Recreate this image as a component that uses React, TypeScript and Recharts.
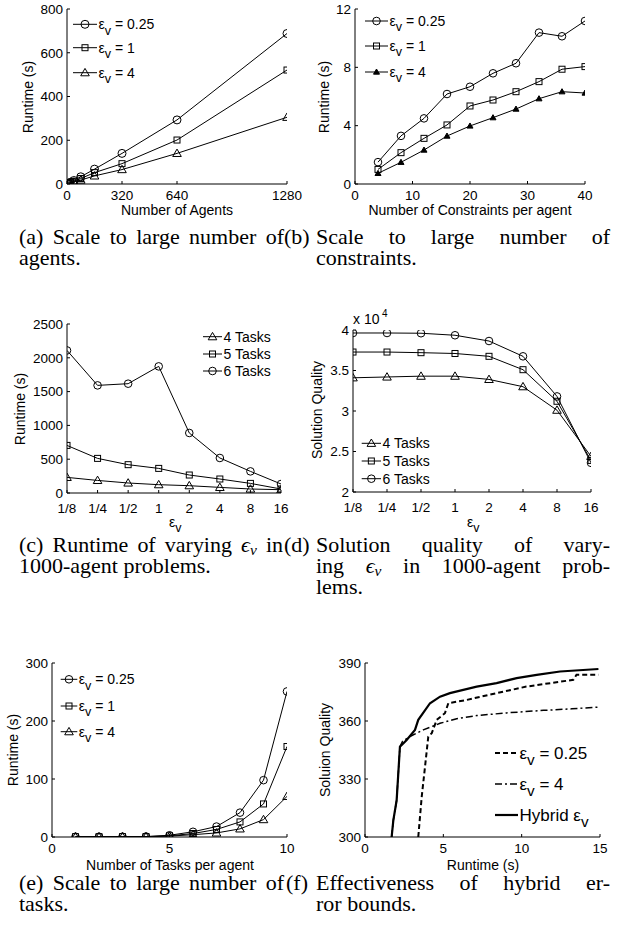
import React from 'react';
import { LineChart, Line, XAxis, YAxis } from 'recharts';

const FONT = "'Liberation Sans', Arial, Helvetica, sans-serif";
const SERIF_NAME = 'Liberation Serif';
const SERIF = "'Liberation Serif', 'Times New Roman', serif";

// (a) Scale to large number of agents
const agents = [10, 20, 40, 80, 160, 320, 640, 1280];
const agentsEps025 = [4, 8, 16, 33, 68, 140, 293, 688];
const agentsEps1 = [3, 6, 12, 25, 52, 93, 201, 521];
const agentsEps4 = [2, 4, 9, 18, 37, 66, 140, 305];
const agentsXTicks = [0, 320, 640, 1280];
const agentsYTicks = [0, 200, 400, 600, 800];

// (b) Scale to large number of constraints
const constraints = [4, 8, 12, 16, 20, 24, 28, 32, 36, 40];
const consEps025 = [1.5, 3.3, 4.5, 6.17, 6.67, 7.59, 8.28, 10.38, 10.13, 11.18];
const consEps1 = [1.0, 2.15, 3.13, 4.05, 5.35, 5.76, 6.33, 7.02, 7.87, 8.05];
const consEps4 = [0.73, 1.49, 2.33, 3.29, 3.98, 4.55, 5.14, 5.85, 6.33, 6.24];
const consXTicks = [0, 10, 20, 30, 40];
const consYTicks = [0, 4, 8, 12];

// (c) & (d) varying eps_v
const epsCats = ['1/8', '1/4', '1/2', '1', '2', '4', '8', '16'];
const rt4Tasks = [231, 186, 148, 123, 108, 83, 59, 49];
const rt5Tasks = [704, 512, 419, 364, 266, 207, 142, 59];
const rt6Tasks = [2109, 1592, 1617, 1873, 888, 518, 320, 133];
const rtYTicks = [0, 500, 1000, 1500, 2000, 2500];
const q4Tasks = [34100, 34200, 34300, 34300, 33900, 33000, 30100, 24400];
const q5Tasks = [37280, 37280, 37200, 37100, 36750, 35100, 31200, 23900];
const q6Tasks = [39630, 39630, 39600, 39350, 38640, 36750, 31800, 23600];
const qYTicks = [20000, 25000, 30000, 35000, 40000];

// (e) Scale to large number of tasks
const tasks = [1, 2, 3, 4, 5, 6, 7, 8, 9, 10];
const tasksEps025 = [0.5, 0.5, 0.6, 0.8, 3, 9, 18, 42, 98, 251];
const tasksEps1 = [0.4, 0.4, 0.5, 0.6, 2, 6, 13, 26, 57, 156];
const tasksEps4 = [0.3, 0.3, 0.4, 0.5, 1.5, 4, 7, 14, 30, 70];
const tasksXTicks = [0, 5, 10];
const tasksYTicks = [0, 100, 200, 300];

// (f) Effectiveness of hybrid error bounds
const hybridX = [1.7, 1.81, 2.02, 2.23, 2.66, 3.19, 3.4, 4.15, 4.79, 5.42, 7.13, 8.4, 9.68, 10.96, 12.45, 14.9];
const hybridY = [300, 308.7, 319, 346.7, 350.2, 355.4, 360.6, 369.2, 372.6, 374.4, 377.8, 379.6, 382.2, 383.9, 385.6, 386.9];
const eps025X = [3.4, 3.62, 3.83, 4.04, 4.26, 4.58, 5.1, 5.32, 6.49, 8.4, 10.3, 13.3, 13.5, 14.9];
const eps025Y = [300, 320.8, 336.3, 351.9, 353.7, 360.6, 364, 369.2, 370.9, 374.4, 377.8, 381.3, 383.9, 383.9];
const eps4X = [1.7, 1.81, 2.02, 2.23, 2.4, 2.87, 3.72, 4.79, 5.85, 7.13, 9.04, 11.4, 13.2, 14.9];
const eps4Y = [300, 308.7, 319, 346.7, 349.5, 352, 355.4, 358.8, 361.2, 362.8, 364.2, 365.5, 366.3, 367.2];
const hybXTicks = [0, 5, 10, 15];
const hybYTicks = [300, 330, 360, 390];

// ---------- tables built from arrays ----------
const tableA = agents.map((x, i) => ({ x, e025: agentsEps025[i], e1: agentsEps1[i], e4: agentsEps4[i] }));
const tableB = constraints.map((x, i) => ({ x, e025: consEps025[i], e1: consEps1[i], e4: consEps4[i] }));
const tableC = epsCats.map((c, i) => ({ x: i, t4: rt4Tasks[i], t5: rt5Tasks[i], t6: rt6Tasks[i] }));
const tableD = epsCats.map((c, i) => ({ x: i, t4: q4Tasks[i], t5: q5Tasks[i], t6: q6Tasks[i] }));
const tableE = tasks.map((x, i) => ({ x, e025: tasksEps025[i], e1: tasksEps1[i], e4: tasksEps4[i] }));
const tableHyb = hybridX.map((x, i) => ({ x, y: hybridY[i] }));
const table025 = eps025X.map((x, i) => ({ x, y: eps025Y[i] }));
const table4 = eps4X.map((x, i) => ({ x, y: eps4Y[i] }));

// ---------- markers ----------
const circ = (cx: number, cy: number, r: number, k?: any) => (
  <circle key={k} cx={cx} cy={cy} r={r} fill="none" stroke="#000" strokeWidth={1} />
);
const sq = (cx: number, cy: number, s: number, k?: any) => (
  <rect key={k} x={cx - s} y={cy - s} width={2 * s} height={2 * s} fill="none" stroke="#000" strokeWidth={1} />
);
const tri = (cx: number, cy: number, s: number, filled: boolean, k?: any) => (
  <polygon
    key={k}
    points={`${cx},${cy - s} ${cx + s},${cy + s * 0.72} ${cx - s},${cy + s * 0.72}`}
    fill={filled ? '#000' : 'none'}
    stroke="#000"
    strokeWidth={1}
  />
);
const dotCirc = (r: number) => (p: any) => (p.cx == null ? <g key={p.index} /> : circ(p.cx, p.cy, r, p.index));
const dotSq = (s: number) => (p: any) => (p.cx == null ? <g key={p.index} /> : sq(p.cx, p.cy, s, p.index));
const dotTri = (s: number, f = false) => (p: any) => (p.cx == null ? <g key={p.index} /> : tri(p.cx, p.cy, s, f, p.index));

// ---------- layout helpers ----------
const ML = 60, MT = 15, MR = 20, MB = 40;
type Rect = { x0: number; y0: number; x1: number; y1: number };
const box = (r: Rect) => {
  const W = r.x1 - r.x0 + ML + MR;
  const H = r.y1 - r.y0 + MT + MB;
  return { W, H, style: { position: 'absolute' as const, left: r.x0 - ML, top: r.y0 - MT, width: W, height: H } };
};
const tickStyle = { fill: '#000', fontSize: 13.5, fontFamily: FONT };
const xAx = {
  type: 'number' as const,
  dataKey: 'x',
  height: MB,
  tickSize: -3,
  tickMargin: 9,
  interval: 0 as const,
  tick: tickStyle,
  axisLine: { stroke: '#000', strokeWidth: 1 },
  tickLine: { stroke: '#000', strokeWidth: 1 },
  allowDataOverflow: true,
};
const yAx = {
  type: 'number' as const,
  width: ML,
  tickSize: -3,
  tickMargin: 7,
  interval: 0 as const,
  tick: tickStyle,
  axisLine: { stroke: '#000', strokeWidth: 1 },
  tickLine: { stroke: '#000', strokeWidth: 1 },
  allowDataOverflow: true,
};
const lineBase = { stroke: '#000', strokeWidth: 1, isAnimationActive: false, activeDot: false as const, type: 'linear' as const };

const rA: Rect = { x0: 67, y0: 9, x1: 287, y1: 184 };
const rB: Rect = { x0: 355, y0: 9, x1: 585, y1: 184 };
const rC: Rect = { x0: 67, y0: 324, x1: 281, y1: 493 };
const rD: Rect = { x0: 353, y0: 330, x1: 591, y1: 492 };
const rE: Rect = { x0: 52, y0: 663, x1: 287, y1: 837 };
const rF: Rect = { x0: 365, y0: 663, x1: 600, y1: 837 };

const PanelA = () => {
  const b = box(rA);
  return (
    <div style={b.style}>
      <LineChart width={b.W} height={b.H} data={tableA} margin={{ top: MT, right: MR, left: 0, bottom: 0 }}>
        <XAxis {...xAx} domain={[0, 1280]} ticks={agentsXTicks} />
        <YAxis {...yAx} domain={[0, 800]} ticks={agentsYTicks} />
        <Line {...lineBase} dataKey="e025" dot={dotCirc(4)} />
        <Line {...lineBase} dataKey="e1" dot={dotSq(3)} />
        <Line {...lineBase} dataKey="e4" dot={dotTri(4.3)} />
      </LineChart>
    </div>
  );
};

const PanelB = () => {
  const b = box(rB);
  return (
    <div style={b.style}>
      <LineChart width={b.W} height={b.H} data={tableB} margin={{ top: MT, right: MR, left: 0, bottom: 0 }}>
        <XAxis {...xAx} domain={[0, 40]} ticks={consXTicks} />
        <YAxis {...yAx} domain={[0, 12]} ticks={consYTicks} />
        <Line {...lineBase} dataKey="e025" dot={dotCirc(3.8)} />
        <Line {...lineBase} dataKey="e1" dot={dotSq(3)} />
        <Line {...lineBase} dataKey="e4" dot={dotTri(3, true)} />
      </LineChart>
    </div>
  );
};

const PanelC = () => {
  const b = box(rC);
  return (
    <div style={b.style}>
      <LineChart width={b.W} height={b.H} data={tableC} margin={{ top: MT, right: MR, left: 0, bottom: 0 }}>
        <XAxis {...xAx} tickMargin={13.5} domain={[0, 7]} ticks={[0, 1, 2, 3, 4, 5, 6, 7]} tickFormatter={(v: number) => epsCats[v]} />
        <YAxis {...yAx} domain={[0, 2500]} ticks={rtYTicks} />
        <Line {...lineBase} dataKey="t4" dot={dotTri(4.3)} />
        <Line {...lineBase} dataKey="t5" dot={dotSq(3)} />
        <Line {...lineBase} dataKey="t6" dot={dotCirc(3.8)} />
      </LineChart>
    </div>
  );
};

const PanelD = () => {
  const b = box(rD);
  return (
    <div style={b.style}>
      <LineChart width={b.W} height={b.H} data={tableD} margin={{ top: MT, right: MR, left: 0, bottom: 0 }}>
        <XAxis {...xAx} tickMargin={13.5} domain={[0, 7]} ticks={[0, 1, 2, 3, 4, 5, 6, 7]} tickFormatter={(v: number) => epsCats[v]} />
        <YAxis {...yAx} domain={[20000, 40000]} ticks={qYTicks} tickFormatter={(v: number) => String(v / 10000)} />
        <Line {...lineBase} dataKey="t4" dot={dotTri(4.3)} />
        <Line {...lineBase} dataKey="t5" dot={dotSq(3)} />
        <Line {...lineBase} dataKey="t6" dot={dotCirc(3.8)} />
      </LineChart>
    </div>
  );
};

const PanelE = () => {
  const b = box(rE);
  return (
    <div style={b.style}>
      <LineChart width={b.W} height={b.H} data={tableE} margin={{ top: MT, right: MR, left: 0, bottom: 0 }}>
        <XAxis {...xAx} domain={[0, 10]} ticks={tasksXTicks} />
        <YAxis {...yAx} domain={[0, 300]} ticks={tasksYTicks} />
        <Line {...lineBase} dataKey="e025" dot={dotCirc(3.8)} />
        <Line {...lineBase} dataKey="e1" dot={dotSq(3)} />
        <Line {...lineBase} dataKey="e4" dot={dotTri(4.3)} />
      </LineChart>
    </div>
  );
};

const PanelF = () => {
  const b = box(rF);
  return (
    <div style={b.style}>
      <LineChart width={b.W} height={b.H} margin={{ top: MT, right: MR, left: 0, bottom: 0 }}>
        <XAxis {...xAx} domain={[0, 15]} ticks={hybXTicks} />
        <YAxis {...yAx} domain={[300, 390]} ticks={hybYTicks} />
        <Line {...lineBase} data={table4} dataKey="y" strokeWidth={1.5} strokeDasharray="7 3 2 3" dot={false} />
        <Line {...lineBase} data={table025} dataKey="y" strokeWidth={2} strokeDasharray="5 3" dot={false} />
        <Line {...lineBase} data={tableHyb} dataKey="y" strokeWidth={2.2} dot={false} />
      </LineChart>
    </div>
  );
};

// ---------- overlay text ----------
const LegendRow = ({ x0, x1, y, marker, fs = 14, dash, sw = 1, children }: any) => (
  <g>
    <line x1={x0} x2={x1} y1={y} y2={y} stroke="#000" strokeWidth={sw} strokeDasharray={dash} />
    {marker ? marker((x0 + x1) / 2, y) : null}
    <text x={x1 + 1.5} y={y + fs * 0.35} fontSize={fs} style={{ fontFamily: FONT }} fill="#000">
      {children}
    </text>
  </g>
);

const EpsLabel = ({ v, fs = 14 }: { v: string; fs?: number }) => (
  <>
    <tspan>ε</tspan>
    <tspan dy={fs * 0.38} fontSize={fs * 0.9}>v</tspan>
    <tspan dy={-fs * 0.38}>{` = ${v}`}</tspan>
  </>
);

const VLabel = ({ x, y, children }: any) => (
  <text transform={`translate(${x},${y}) rotate(-90)`} textAnchor="middle" fontSize={14} style={{ fontFamily: FONT }} fill="#000">
    {children}
  </text>
);
const HLabel = ({ x, y, children }: any) => (
  <text x={x} y={y} textAnchor="middle" fontSize={14} style={{ fontFamily: FONT }} fill="#000">
    {children}
  </text>
);

// caption words, justified by measuring with a canvas
const CAP_FS = 20;
const SX = 1.1;
let mctx: CanvasRenderingContext2D | null = null;
const measure = (s: string, italic: boolean, size: number) => {
  if (!mctx) mctx = document.createElement('canvas').getContext('2d');
  if (!mctx) return s.length * size * 0.45;
  mctx.font = `${italic ? 'italic ' : ''}${size}px "${SERIF_NAME}", serif`;
  return mctx.measureText(s).width;
};
const EPS = '\u0000eps';
const wordWidth = (w: string) =>
  w === EPS ? measure('ϵ', true, CAP_FS) + measure('v', true, 14) : measure(w, false, CAP_FS);

const Word = ({ w, x }: { w: string; x: number }) =>
  w === EPS ? (
    <text x={x} y={0} fontSize={CAP_FS} style={{ fontFamily: SERIF }} fill="#000">
      <tspan fontStyle="italic">ϵ</tspan>
      <tspan fontStyle="italic" fontSize={14} dy={3}>v</tspan>
    </text>
  ) : (
    <text x={x} y={0} fontSize={CAP_FS} style={{ fontFamily: SERIF }} fill="#000">
      {w}
    </text>
  );

const Cap = ({ x, y, len, words, label, labelX }: { x: number; y: number; len?: number; words: string[]; label?: string; labelX?: number }) => {
  const widths = words.map(wordWidth);
  const total = widths.reduce((a, b) => a + b, 0);
  const natGap = measure(' ', false, CAP_FS);
  const gap = len && words.length > 1 ? Math.max(natGap, (len / SX - total) / (words.length - 1)) : natGap;
  let pos = 0;
  const items = words.map((w, i) => {
    const px = pos;
    pos += widths[i] + gap;
    return <Word key={i} w={w} x={px} />;
  });
  return (
    <>
      {label ? (
        <g transform={`translate(${labelX},${y}) scale(${SX},1)`}>
          <Word w={label} x={0} />
        </g>
      ) : null}
      <g transform={`translate(${x},${y}) scale(${SX},1)`}>{items}</g>
    </>
  );
};
const W = (s: string) => s.split(' ');

const Overlay = () => (
  <svg width={629} height={930} style={{ position: 'absolute', left: 0, top: 0, pointerEvents: 'none' }}>
    {/* axis labels */}
    <HLabel x={177} y={215}>Number of Agents</HLabel>
    <VLabel x={33} y={97}>Runtime (s)</VLabel>
    <HLabel x={470} y={215}>Number of Constraints per agent</HLabel>
    <VLabel x={329} y={97}>Runtime (s)</VLabel>
    <text x={169} y={527} fontSize={14} style={{ fontFamily: FONT }}>
      ε<tspan dy={5} fontSize={12.5}>v</tspan>
    </text>
    <VLabel x={25} y={409}>Runtime (s)</VLabel>
    <text x={467} y={527} fontSize={14} style={{ fontFamily: FONT }}>
      ε<tspan dy={5} fontSize={12.5}>v</tspan>
    </text>
    <VLabel x={322} y={410}>Solution Quality</VLabel>
    <text x={353} y={324} fontSize={14} style={{ fontFamily: FONT }}>x 10</text>
    <text x={382} y={317} fontSize={10} style={{ fontFamily: FONT }}>4</text>
    <HLabel x={170} y={870}>Number of Tasks per agent</HLabel>
    <VLabel x={18} y={750}>Runtime (s)</VLabel>
    <HLabel x={483} y={870}>Runtime (s)</HLabel>
    <VLabel x={330} y={750}>Soluion Quality</VLabel>

    {/* legend (a) */}
    <LegendRow x0={73} x1={97} y={24.3} marker={(cx: number, cy: number) => circ(cx, cy, 4)}><EpsLabel v="0.25" /></LegendRow>
    <LegendRow x0={73} x1={97} y={47.7} marker={(cx: number, cy: number) => sq(cx, cy, 3)}><EpsLabel v="1" /></LegendRow>
    <LegendRow x0={73} x1={97} y={72.7} marker={(cx: number, cy: number) => tri(cx, cy, 4.3, false)}><EpsLabel v="4" /></LegendRow>
    {/* legend (b) */}
    <LegendRow x0={365} x1={388} y={21} marker={(cx: number, cy: number) => circ(cx, cy, 3.8)}><EpsLabel v="0.25" /></LegendRow>
    <LegendRow x0={365} x1={388} y={46} marker={(cx: number, cy: number) => sq(cx, cy, 3)}><EpsLabel v="1" /></LegendRow>
    <LegendRow x0={365} x1={388} y={72} marker={(cx: number, cy: number) => tri(cx, cy, 3, true)}><EpsLabel v="4" /></LegendRow>
    {/* legend (c) */}
    <LegendRow x0={203} x1={222} y={336.7} marker={(cx: number, cy: number) => tri(cx, cy, 4.3, false)}>4 Tasks</LegendRow>
    <LegendRow x0={203} x1={222} y={354} marker={(cx: number, cy: number) => sq(cx, cy, 3)}>5 Tasks</LegendRow>
    <LegendRow x0={203} x1={222} y={371} marker={(cx: number, cy: number) => circ(cx, cy, 3.8)}>6 Tasks</LegendRow>
    {/* legend (d) */}
    <LegendRow x0={361.7} x1={381} y={443.3} marker={(cx: number, cy: number) => tri(cx, cy, 4.3, false)}>4 Tasks</LegendRow>
    <LegendRow x0={361.7} x1={381} y={461} marker={(cx: number, cy: number) => sq(cx, cy, 3)}>5 Tasks</LegendRow>
    <LegendRow x0={361.7} x1={381} y={478.7} marker={(cx: number, cy: number) => circ(cx, cy, 3.8)}>6 Tasks</LegendRow>
    {/* legend (e) */}
    <LegendRow x0={60.7} x1={77.3} y={679.3} marker={(cx: number, cy: number) => circ(cx, cy, 3.8)}><EpsLabel v="0.25" /></LegendRow>
    <LegendRow x0={60.7} x1={77.3} y={706} marker={(cx: number, cy: number) => sq(cx, cy, 3)}><EpsLabel v="1" /></LegendRow>
    <LegendRow x0={60.7} x1={77.3} y={731.7} marker={(cx: number, cy: number) => tri(cx, cy, 4.3, false)}><EpsLabel v="4" /></LegendRow>
    {/* legend (f) */}
    <LegendRow x0={495} x1={518} y={753} fs={17} sw={2} dash="5 3"><EpsLabel v="0.25" fs={17} /></LegendRow>
    <LegendRow x0={495} x1={518} y={784} fs={17} sw={1.5} dash="7 3 2 3"><EpsLabel v="4" fs={17} /></LegendRow>
    <LegendRow x0={495} x1={518} y={815} fs={17} sw={2.2}>
      <tspan>Hybrid ε</tspan>
      <tspan dy={6.5} fontSize={15.3}>v</tspan>
    </LegendRow>

    {/* captions */}
    <Cap x={19} y={244} len={265} words={W('(a) Scale to large number of')} />
    <Cap label="(b)" labelX={284} x={316} y={244} len={294} words={W('Scale to large number of')} />
    <Cap x={19} y={265} words={W('agents.')} />
    <Cap x={316} y={265} words={W('constraints.')} />

    <Cap x={19} y={552} len={264} words={['(c)', 'Runtime', 'of', 'varying', EPS, 'in']} />
    <Cap label="(d)" labelX={284} x={316} y={552} len={294} words={W('Solution quality of vary-')} />
    <Cap x={19} y={573} words={W('1000-agent problems.')} />
    <Cap x={316} y={573} len={294} words={['ing', EPS, 'in', '1000-agent', 'prob-']} />
    <Cap x={316} y={594} words={W('lems.')} />

    <Cap x={19} y={890} len={265} words={W('(e) Scale to large number of')} />
    <Cap label="(f)" labelX={286} x={316} y={890} len={294} words={W('Effectiveness of hybrid er-')} />
    <Cap x={19} y={911} words={W('tasks.')} />
    <Cap x={316} y={911} words={W('ror bounds.')} />
  </svg>
);

export default function App() {
  return (
    <div style={{ position: 'absolute', left: 0, top: 0, width: 629, height: 930, background: '#fff', overflow: 'hidden' }}>
      <PanelA />
      <PanelB />
      <PanelC />
      <PanelD />
      <PanelE />
      <PanelF />
      <Overlay />
    </div>
  );
}
